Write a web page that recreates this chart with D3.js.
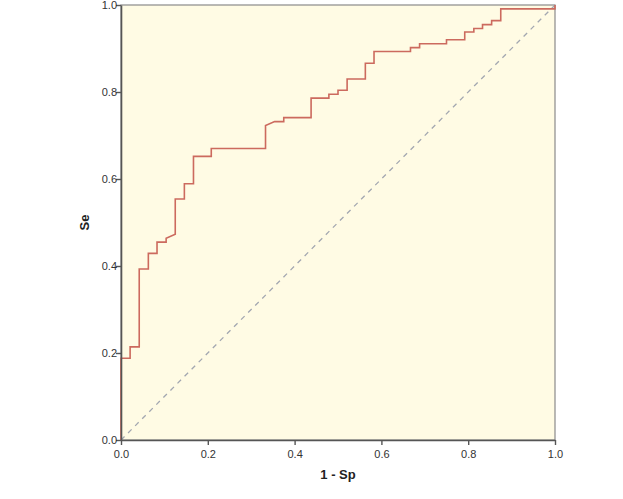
<!DOCTYPE html>
<html>
<head>
<meta charset="utf-8">
<script src="https://cdn.jsdelivr.net/npm/d3@7"></script>
<style>
  body { margin: 0; background: #fff; }
  text { font-family: "Liberation Sans", Arial, sans-serif; }
</style>
</head>
<body>
<svg id="roc" width="623" height="499"></svg>
<script>
// ROC curve vertices
const fpr = [0, 0, 0.021, 0.021, 0.042, 0.042, 0.063, 0.063, 0.083, 0.083, 0.104, 0.104, 0.125, 0.125,
  0.146, 0.146, 0.167, 0.167, 0.208, 0.208, 0.333, 0.333, 0.354, 0.375, 0.375, 0.438, 0.438,
  0.479, 0.479, 0.5, 0.5, 0.521, 0.521, 0.563, 0.563, 0.583, 0.583, 0.667, 0.667, 0.688, 0.688,
  0.75, 0.75, 0.792, 0.792, 0.813, 0.813, 0.833, 0.833, 0.854, 0.854, 0.875, 0.875, 1, 1];
const se = [0, 0.188, 0.188, 0.214, 0.214, 0.393, 0.393, 0.429, 0.429, 0.455, 0.455, 0.464, 0.473, 0.554,
  0.554, 0.589, 0.589, 0.652, 0.652, 0.670, 0.670, 0.723, 0.732, 0.732, 0.741, 0.741, 0.786,
  0.786, 0.795, 0.795, 0.804, 0.804, 0.830, 0.830, 0.866, 0.866, 0.893, 0.893, 0.902, 0.902, 0.911,
  0.911, 0.920, 0.920, 0.938, 0.938, 0.946, 0.946, 0.955, 0.955, 0.964, 0.964, 0.991, 0.991, 1];
const ticks = [0, 0.2, 0.4, 0.6, 0.8, 1.0];

const svg = d3.select("#roc");
const margin = { top: 5, left: 121, right: 68, bottom: 59 };
const width = 623 - margin.left - margin.right;
const height = 499 - margin.top - margin.bottom;

const g = svg.append("g")
  .attr("transform", "translate(" + margin.left + "," + margin.top + ")");

const x = d3.scaleLinear().domain([0, 1]).range([0, width]);
const y = d3.scaleLinear().domain([0, 1]).range([height, 0]);

// background + frame
g.append("rect")
  .attr("width", width)
  .attr("height", height)
  .attr("fill", "#fffbe4")
  .attr("stroke", "#8a8a8a")
  .attr("stroke-width", 1.2);

// reference diagonal
g.append("line")
  .attr("x1", x(0)).attr("y1", y(0))
  .attr("x2", x(1)).attr("y2", y(1))
  .attr("stroke", "#a3a7b0")
  .attr("stroke-width", 1.3)
  .attr("stroke-dasharray", "5,5");

const pts = fpr.map((d, i) => [d, se[i]]);
const line = d3.line().x(d => x(d[0])).y(d => y(d[1]));

g.append("path")
  .datum(pts)
  .attr("fill", "none")
  .attr("stroke", "#cc6a5e")
  .attr("stroke-width", 1.6)
  .attr("d", line);

const xAxis = g.append("g")
  .attr("transform", "translate(0," + height + ")")
  .call(d3.axisBottom(x).tickValues(ticks).tickFormat(d3.format(".1f")).tickSize(5).tickSizeOuter(0));
const yAxis = g.append("g")
  .call(d3.axisLeft(y).tickValues(ticks).tickFormat(d3.format(".1f")).tickSize(5).tickSizeOuter(0));

[xAxis, yAxis].forEach(a => {
  a.select(".domain").attr("stroke", "#555").attr("stroke-width", 1.6);
  a.selectAll(".tick line").attr("stroke", "#555").attr("stroke-width", 1.4);
  a.selectAll(".tick text")
    .attr("fill", "#333")
    .style("font-size", "11px")
    .style("font-family", "'Liberation Sans', Arial, sans-serif");
});
xAxis.selectAll(".tick text").attr("dy", "0.9em");
yAxis.selectAll(".tick text").attr("x", -4);

g.append("text")
  .attr("x", width / 2)
  .attr("y", height + 39)
  .attr("text-anchor", "middle")
  .attr("fill", "#222")
  .style("font-size", "13px")
  .style("font-weight", "bold")
  .text("1 - Sp");

g.append("text")
  .attr("transform", "rotate(-90)")
  .attr("x", -height / 2)
  .attr("y", -32)
  .attr("text-anchor", "middle")
  .attr("fill", "#222")
  .style("font-size", "13px")
  .style("font-weight", "bold")
  .text("Se");
</script>
</body>
</html>
